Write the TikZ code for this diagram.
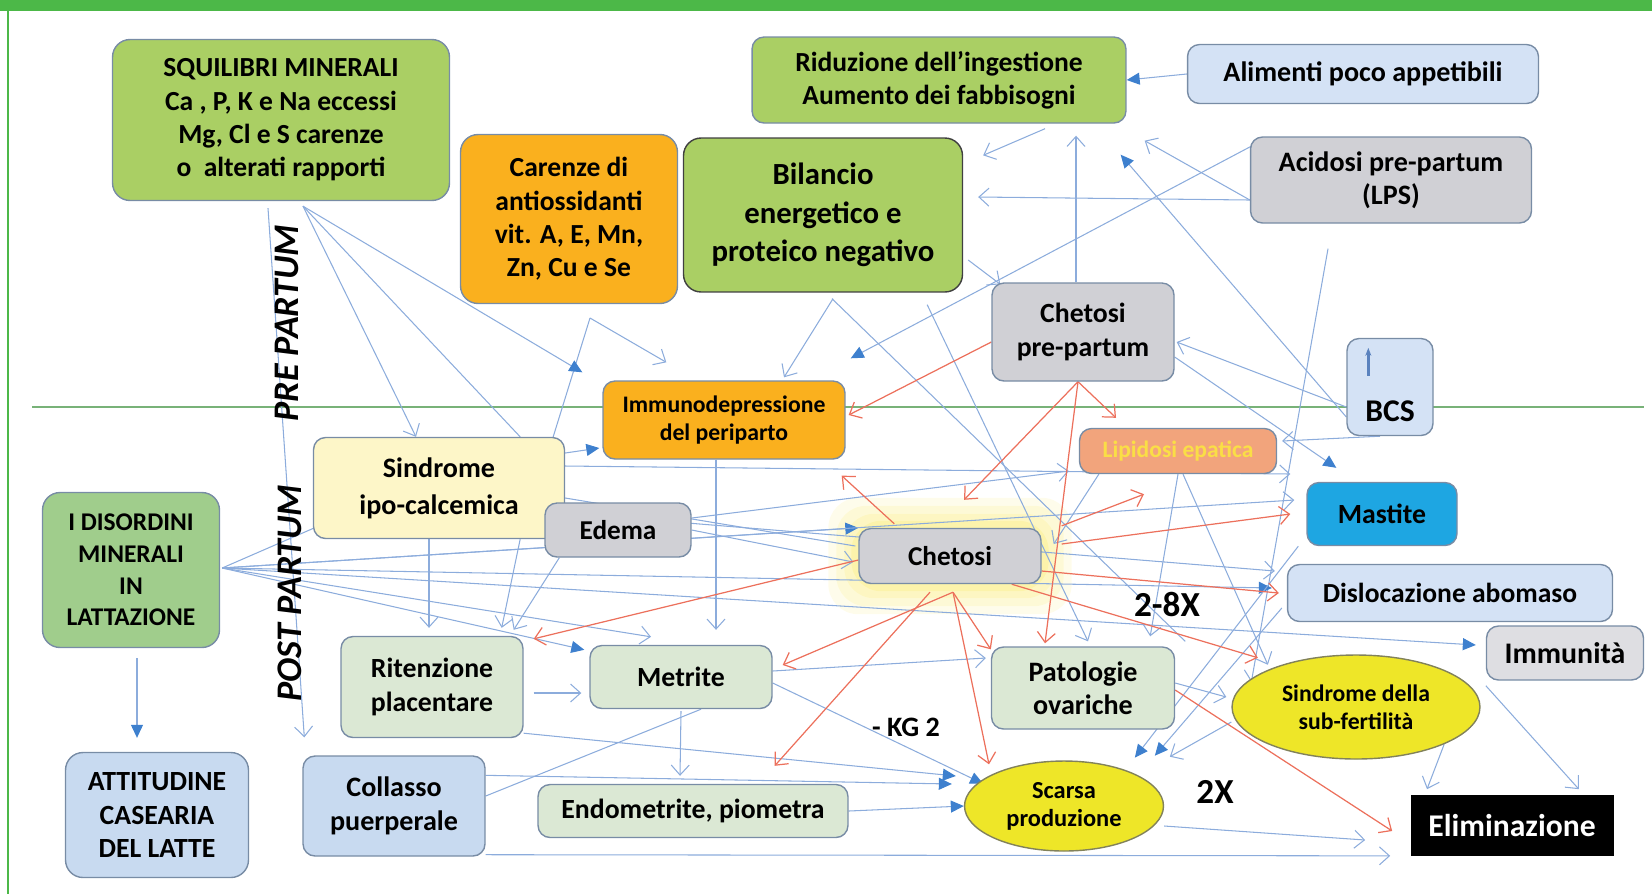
\documentclass[tikz,border=0pt]{standalone}
\usepackage{fontspec}
\setmainfont{Carlito}
\usepackage{xcolor}
\usepackage{tikz}
\usetikzlibrary{shapes.geometric,arrows.meta,calc}
\definecolor{frameg}{RGB}{76,184,72}
\definecolor{sepg}{RGB}{120,178,120}
\definecolor{boxedge}{RGB}{120,140,165}
\definecolor{ovaledge}{RGB}{130,130,90}
\definecolor{greenA}{RGB}{170,207,100}
\definecolor{greenB}{RGB}{160,205,140}
\definecolor{orangeA}{RGB}{250,176,30}
\definecolor{salmon}{RGB}{242,164,124}
\definecolor{lipidtext}{RGB}{250,222,70}
\definecolor{grayA}{RGB}{208,208,213}
\definecolor{grayB}{RGB}{222,222,226}
\definecolor{blueL}{RGB}{212,226,245}
\definecolor{blueM}{RGB}{200,218,240}
\definecolor{yellowP}{RGB}{253,246,200}
\definecolor{greenP}{RGB}{219,232,212}
\definecolor{mastblue}{RGB}{30,166,226}
\definecolor{yellowE}{RGB}{238,230,40}
\definecolor{glowy}{RGB}{250,236,120}
\definecolor{lineblue}{RGB}{140,172,220}
\definecolor{headblue}{RGB}{62,128,206}
\definecolor{linered}{RGB}{236,112,92}
\definecolor{bcsblue}{RGB}{90,130,190}
\newcommand{\fsz}[2]{\fontsize{#1}{#2}\selectfont\bfseries}
\pgfdeclarelayer{bg}
\pgfsetlayers{bg,main}

\begin{document}
\begin{tikzpicture}[x=0.02cm, y=-0.02cm,
    box/.style={rectangle, rounded corners=2.4mm, draw=boxedge, line width=0.8pt, align=center, inner sep=0pt},
    oval/.style={ellipse, draw=ovaledge, fill=yellowE, line width=0.8pt, align=center, inner sep=0pt},
    lbl/.style={font=\fsz{20}{22}},
    side/.style={font=\fsz{20.5}{22}\itshape, rotate=90},
    blu/.style={draw=lineblue, line width=0.6pt, -{Straight Barb[length=2mm,width=3.6mm]}},
    bluf/.style={draw=lineblue, line width=0.6pt, -{Triangle[length=2.6mm,width=2.4mm,color=headblue]}},
    plain/.style={draw=lineblue, line width=0.6pt},
    rosso/.style={draw=linered, line width=0.7pt, -{Straight Barb[length=2mm,width=3.6mm]}}
]
    \useasboundingbox (0,0) rectangle (1652,894);

    % pre partum
    \node[box, fill=greenA, rounded corners=3.5mm, font=\fsz{15.7}{19}, minimum width=6.74cm, minimum height=3.22cm] (squi) at (281,120) {SQUILIBRI MINERALI\\Ca , P, K e Na eccessi\\Mg, Cl e S carenze\\o\ \ alterati rapporti};
    \node[box, fill=orangeA, rounded corners=3.5mm, font=\fsz{15.7}{19}, minimum width=4.34cm, minimum height=3.38cm] (caren) at (569,219) {Carenze di\\antiossidanti\\vit. A, E, Mn,\\Zn, Cu e Se};
    \node[box, fill=greenA, font=\fsz{15.7}{19}, minimum width=7.48cm, minimum height=1.72cm] (riduz) at (939,80) {Riduzione dell’ingestione\\Aumento dei fabbisogni};
    \node[box, fill=blueL, font=\fsz{16}{19}, minimum width=7.02cm, minimum height=1.18cm] (alim) at (1363,74) {Alimenti poco appetibili};
    \node[box, fill=greenA, draw=black!75, rounded corners=3.5mm, font=\fsz{17.5}{22}, minimum width=5.58cm, minimum height=3.08cm] (bil) at (823,215) {Bilancio\\energetico e\\proteico negativo};
    \node[box, fill=grayA, font=\fsz{16}{19}, minimum width=5.62cm, minimum height=1.72cm] (acid) at (1391,180) {Acidosi pre-partum\\(LPS)};
    \node[box, fill=grayA, font=\fsz{15.8}{19}, minimum width=3.64cm, minimum height=1.96cm] (chpre) at (1083,332) {Chetosi\\pre-partum};
    \node[box, fill=blueL, font=\fsz{18}{19}, minimum width=1.72cm, minimum height=1.94cm, text height=1.46cm, text depth=0.08cm] (bcs) at (1390,387) {BCS};
    \node[box, fill=orangeA, font=\fsz{13.5}{16}, minimum width=4.84cm, minimum height=1.56cm] (immuno) at (724,420) {Immunodepressione\\del periparto};

    % post partum
    \node[box, fill=salmon, text=lipidtext, font=\fsz{13.4}{16}, minimum width=3.94cm, minimum height=0.9cm] (lipid) at (1178,451) {Lipidosi epatica};
    \node[box, fill=yellowP, font=\fsz{16}{21}, minimum width=5.02cm, minimum height=2.02cm] (ipo) at (439,488) {Sindrome\\ipo-calcemica};
    \node[box, fill=grayA, font=\fsz{15.5}{19}, minimum width=2.92cm, minimum height=1.08cm] (edema) at (618,530) {Edema};
    \node[box, fill=greenB, rounded corners=3.5mm, font=\fsz{14.5}{18}, minimum width=3.54cm, minimum height=3.1cm] (disord) at (131,570) {I DISORDINI\\MINERALI\\IN\\LATTAZIONE};
    \node[box, fill=grayA, font=\fsz{15.5}{19}, minimum width=3.64cm, minimum height=1.1cm] (chet) at (950,556) {Chetosi};
    \node[box, fill=mastblue, font=\fsz{15.8}{19}, minimum width=3.0cm, minimum height=1.26cm] (mast) at (1382,514) {Mastite};
    \node[box, fill=blueL, font=\fsz{15.7}{19}, minimum width=6.5cm, minimum height=1.14cm] (disloc) at (1450,593) {Dislocazione abomaso};
    \node[box, fill=grayB, font=\fsz{17}{19}, minimum width=3.14cm, minimum height=1.08cm] (immun) at (1565,653) {Immunità};
    \node[box, fill=greenP, font=\fsz{15.8}{19}, minimum width=3.64cm, minimum height=2.02cm] (riten) at (432,687) {Ritenzione\\placentare};
    \node[box, fill=greenP, font=\fsz{15.8}{19}, minimum width=3.64cm, minimum height=1.26cm] (metr) at (681,677) {Metrite};
    \node[box, fill=greenP, font=\fsz{16}{19}, minimum width=3.66cm, minimum height=1.64cm] (patol) at (1083,688) {Patologie\\ovariche};
    \node[oval, font=\fsz{13.5}{16}, minimum width=4.96cm, minimum height=2.08cm] (subf) at (1356,707) {Sindrome della\\sub-fertilità};
    \node[box, fill=blueM, rounded corners=3.5mm, font=\fsz{15.8}{19}, minimum width=3.66cm, minimum height=2.5cm] (attit) at (157,815) {ATTITUDINE\\CASEARIA\\DEL LATTE};
    \node[box, fill=blueM, font=\fsz{16}{19}, minimum width=3.64cm, minimum height=2.0cm] (collas) at (394,806) {Collasso\\puerperale};
    \node[box, fill=greenP, font=\fsz{15.8}{19}, minimum width=6.2cm, minimum height=1.06cm] (endom) at (693,811) {Endometrite, piometra};
    \node[oval, font=\fsz{13.9}{16}, minimum width=3.98cm, minimum height=1.8cm] (scarsa) at (1064,806) {Scarsa\\produzione};
    \node[rectangle, fill=black, text=white, font=\fsz{18}{19}, minimum width=4.06cm, minimum height=1.22cm] (elim) at (1512,825) {Eliminazione};

    % labels
    \node[side] (pre) at (287,323) {PRE PARTUM};
    \node[side] (post) at (290,593) {POST PARTUM};
    \node[lbl] (l28) at (1167,604) {2-8X};
    \node[font=\fsz{16}{19}] (kg2) at (906,727) {- KG 2};
    \node[lbl] (l2x) at (1215,792) {2X};

    \coordinate (sq) at ($(squi.south)+(22,5)$);
    \coordinate (cv) at (590,318);
    \coordinate (ds) at ($(disord.east)+(2,-2)$);
    \coordinate (cb) at ($(chet.south)+(3,8)$);

    \begin{pgfonlayer}{bg}
        \fill[frameg] (0,0) rectangle (1652,11);
        \draw[frameg, line width=1pt] (8,11) -- (8,894);
        \draw[sepg, line width=0.8pt] (32,407) -- (1644,407);
        \foreach \gw/\gop in {30/0.15,22/0.18,14/0.22,7/0.3}
            \fill[glowy, opacity=\gop, rounded corners=6mm] ($(chet.north west)+(-\gw,-\gw)$) rectangle ($(chet.south east)+(\gw,\gw)$);

        % blue, pre partum
        \draw[bluf] (alim.west) -- (riduz.east);
        \draw[blu] ($(riduz.south)+(106,5)$) -- ($(bil.north east)+(20,18)$);
        \draw[blu] ($(acid.west)+(0,20)$) -- ($(bil.east)+(15,-18)$);
        \draw[blu] ($(acid.west)+(0,20)$) -- ($(riduz.south east)+(18,17)$);
        \draw[blu] ($(chpre.north)+(-7,0)$) -- ($(riduz.south)+(137,12)$);
        \draw[bluf] ($(acid.north west)+(5,8)$) -- ($(immuno.north east)+(5,-22)$);
        \draw[bluf] ($(bcs.west)+(0,30)$) -- ($(riduz.south east)+(-6,31)$);
        \draw[blu] ($(bcs.west)+(0,20)$) -- ($(chpre.east)+(2,10)$);
        \draw[bluf] ($(chpre.east)+(0,25)$) -- ($(mast.north west)+(30,-14)$);
        \draw[blu] ($(acid.south)+(-63,25)$) -- ($(subf.west)+(20,-25)$);
        \draw[blu] ($(bil.east)+(5,45)$) -- ($(chpre.north west)+(9,2)$);
        \draw[blu] ($(bil.south)+(10,6)$) -- ($(immuno.north)+(60,-3)$);
        \draw[plain] ($(bil.south)+(9,6)$) -- ($(patol.north east)+(10,-5)$);
        \draw[blu] ($(bil.south east)+(-36,12)$) -- ($(patol.north)+(5,-5)$);
        \draw[plain] ($(ipo.north east)+(-12,0)$) -- (cv);
        \draw[blu] (cv) -- ($(immuno.north west)+(64,-18)$);
        \draw[blu] (sq) -- ($(ipo.north)+(-23,0)$);
        \draw[plain] (sq) -- ($(ipo.north east)+(-45,0)$);
        \draw[bluf] (sq) -- ($(immuno.north west)+(-20,-8)$);
        \draw[blu] ($(squi.south)+(-13,7)$) -- ($(collas.north west)+(2,-18)$);
        \draw[bluf] ($(ipo.east)+(0,-35)$) -- ($(immuno.west)+(-3,28)$);

        % blue, post partum
        \draw[plain] (ds) -- ($(ipo.south west)+(10,-15)$);
        \draw[bluf] (ds) -- (chet.north west);
        \draw[blu] (ds) -- ($(mast.west)+(-12,-14)$);
        \draw[bluf] (ds) -- ($(disloc.west)+(-15,-5)$);
        \draw[bluf] (ds) -- ($(immun.west)+(-10,-8)$);
        \draw[bluf] (ds) -- ($(metr.north west)+(-5,5)$);
        \draw[blu] (ds) -- ($(metr.north)+(-30,-8)$);
        \draw[bluf] ($(disord.south)+(6,10)$) -- ($(attit.north)+(-20,-14)$);
        \draw[blu] ($(ipo.south)+(-10,0)$) -- ($(riten.north)+(-3,-8)$);
        \draw[blu] ($(ipo.south east)+(-45,0)$) -- ($(riten.north east)+(-22,-8)$);
        \draw[blu] ($(edema.south west)+(15,0)$) -- ($(riten.north east)+(-10,-6)$);
        \draw[blu] ($(ipo.east)+(0,-22)$) -- ($(mast.west)+(-16,-40)$);
        \draw[plain] ($(ipo.east)+(0,10)$) -- ($(chet.west)+(-3,-10)$);
        \draw[blu] ($(ipo.east)+(0,25)$) -- ($(disloc.west)+(-12,-22)$);
        \draw[blu] ($(immuno.south)+(-8,0)$) -- ($(metr.north)+(35,-15)$);
        \draw[blu] ($(riten.east)+(10,6)$) -- ($(metr.west)+(-8,16)$);
        \draw[blu] ($(metr.south)+(0,2)$) -- ($(endom.north)+(-13,-8)$);
        \draw[bluf] ($(metr.east)+(0,6)$) -- ($(scarsa.north west)+(-10,10)$);
        \draw[blu] ($(metr.east)+(0,-6)$) -- ($(patol.west)+(-5,-30)$);
        \draw[bluf] ($(riten.south east)+(0,-5)$) -- ($(scarsa.west)+(-8,-30)$);
        \draw[bluf] ($(collas.north east)+(0,20)$) -- ($(scarsa.west)+(-12,-22)$);
        \draw[plain] ($(collas.east)+(0,-10)$) -- ($(metr.south)+(20,0)$);
        \draw[bluf] (endom.east) -- (scarsa.west);
        \draw[blu] ($(collas.south east)+(0,-2)$) -- ($(elim.south west)+(-20,0)$);
        \draw[blu] ($(scarsa.east)+(0,20)$) -- ($(elim.west)+(-45,15)$);
        \draw[blu] (subf.south east) -- ($(elim.north)+(-85,-5)$);
        \draw[blu] ($(immun.south west)+(0,5)$) -- ($(elim.north east)+(-35,-5)$);
        \draw[blu] ($(patol.east)+(0,-5)$) -- ($(subf.west)+(-5,-10)$);
        \draw[bluf] ($(mast.south west)+(-8,0)$) -- ($(scarsa.north east)+(0,-16)$);
        \draw[bluf] ($(disloc.west)+(-5,15)$) -- ($(scarsa.north east)+(20,-18)$);
        \draw[blu] ($(subf.west)+(0,15)$) -- ($(scarsa.north east)+(35,-17)$);
        \draw[blu] ($(lipid.south west)+(20,0)$) -- ($(chet.east)+(12,-12)$);
        \draw[blu] ($(bcs.south)+(-10,0)$) -- ($(lipid.east)+(5,-10)$);
        \draw[blu] (lipid.south) -- ($(patol.north east)+(-25,-10)$);
        \draw[blu] ($(lipid.south)+(5,0)$) -- ($(subf.north west)+(0,-5)$);
        \draw[blu] (edema.east) -- ($(chet.west)+(-5,6)$);
        \draw[blu] ($(edema.east)+(0,-12)$) -- ($(lipid.west)+(-10,20)$);

        % red
        \draw[rosso] ($(chpre.west)+(0,10)$) -- ($(immuno.east)+(3,-5)$);
        \draw[rosso] ($(chpre.south)+(-5,0)$) -- ($(lipid.north)+(-62,-10)$);
        \draw[rosso] ($(chpre.south)+(-5,0)$) -- ($(chet.north)+(14,-28)$);
        \draw[rosso] ($(chpre.south)+(-5,0)$) -- ($(patol.north)+(-38,-3)$);
        \draw[rosso] ($(chet.north west)+(36,-4)$) -- ($(immuno.south east)+(-4,16)$);
        \draw[rosso] ($(chet.west)+(0,4)$) -- ($(riten.north east)+(10,3)$);
        \draw[rosso] (cb) -- ($(metr.east)+(10,-12)$);
        \draw[rosso] ($(chet.south)+(-20,8)$) -- ($(endom.north east)+(-74,-18)$);
        \draw[rosso] (cb) -- ($(patol.north west)+(0,3)$);
        \draw[rosso] (cb) -- ($(scarsa.north)+(-75,4)$);
        \draw[rosso] ($(chet.south east)+(-30,0)$) -- ($(subf.north west)+(-10,-12)$);
        \draw[rosso] ($(chet.east)+(0,15)$) -- ($(disloc.west)+(-8,0)$);
        \draw[rosso] ($(chet.east)+(20,-12)$) -- ($(mast.west)+(-16,0)$);
        \draw[rosso] ($(chet.north east)+(20,-2)$) -- ($(lipid.south)+(-34,20)$);
        \draw[rosso] ($(patol.east)+(0,2)$) -- ($(elim.west)+(-18,6)$);
    \end{pgfonlayer}

    \draw[bcsblue, line width=1.4pt, -{Stealth[length=1.6mm]}] ($(bcs.north west)+(22,38)$) -- ($(bcs.north west)+(22,10)$);
\end{tikzpicture}
\end{document}
